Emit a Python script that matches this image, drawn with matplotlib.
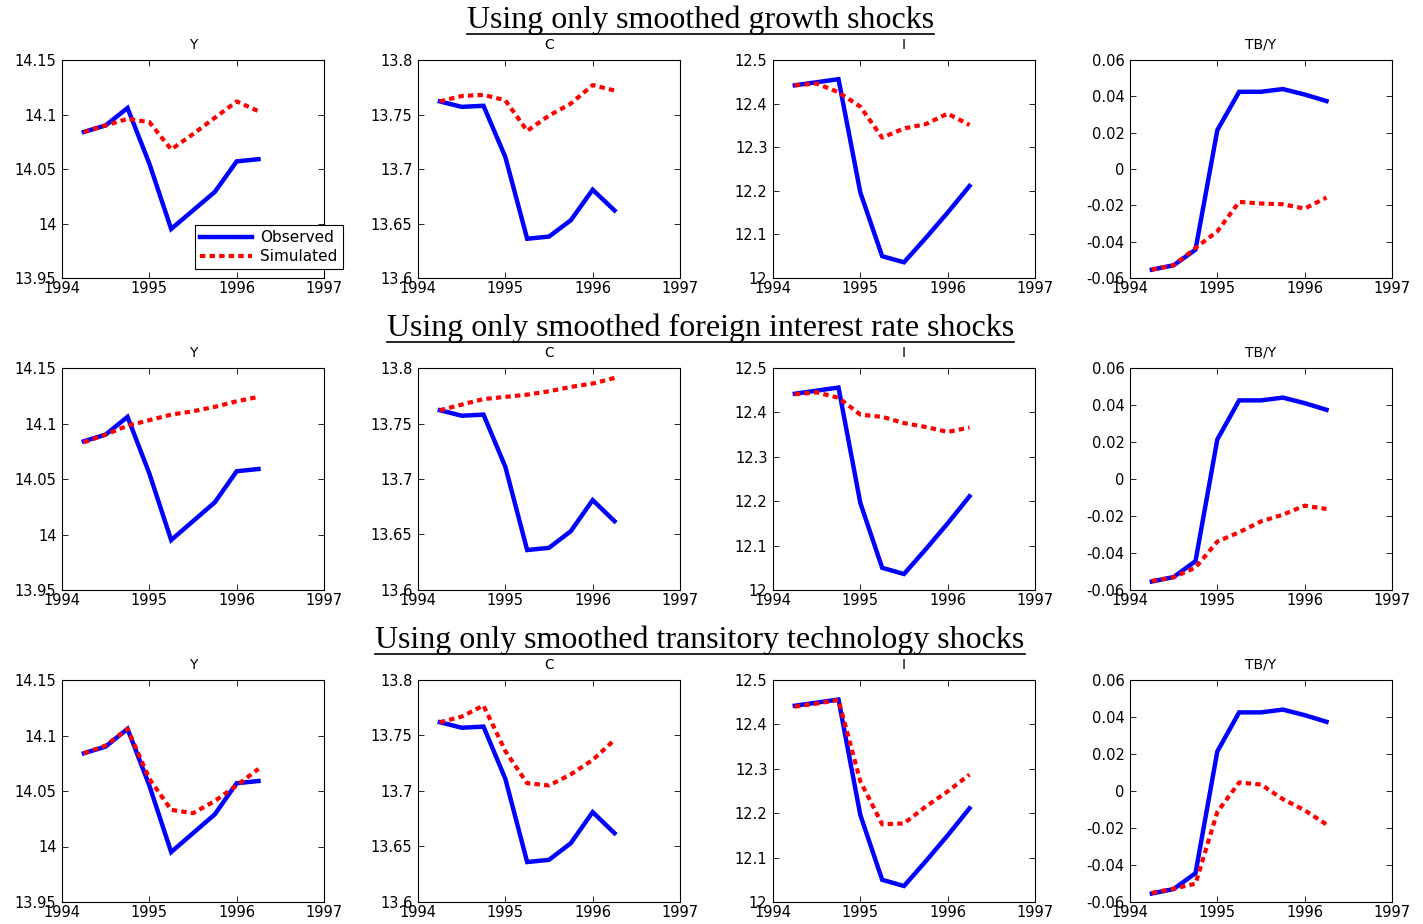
import matplotlib
matplotlib.use("Agg")
import matplotlib.pyplot as plt
from matplotlib.lines import Line2D
from matplotlib.ticker import FuncFormatter

# quarterly dates
quarters = [1994.25, 1994.5, 1994.75, 1995.0, 1995.25, 1995.5, 1995.75, 1996.0, 1996.25]

# observed series (same in every row)
obs_Y = [14.084, 14.090, 14.106, 14.055, 13.995, 14.012, 14.029, 14.057, 14.059]
obs_C = [13.762, 13.757, 13.758, 13.711, 13.636, 13.638, 13.653, 13.681, 13.662]
obs_I = [12.442, 12.449, 12.456, 12.196, 12.050, 12.036, 12.092, 12.150, 12.211]
obs_TBY = [-0.0554, -0.0530, -0.0444, 0.0214, 0.0425, 0.0425, 0.0440, 0.0410, 0.0374]

# simulated: growth shocks only
growth_Y = [14.084, 14.090, 14.096, 14.093, 14.068, 14.082, 14.097, 14.112, 14.103]
growth_C = [13.762, 13.767, 13.768, 13.763, 13.735, 13.749, 13.760, 13.777, 13.772]
growth_I = [12.442, 12.446, 12.426, 12.393, 12.322, 12.343, 12.353, 12.377, 12.351]
growth_TBY = [-0.0554, -0.0530, -0.0435, -0.0343, -0.0181, -0.0190, -0.0194, -0.0218, -0.0157]

# simulated: foreign interest rate shocks only
rate_Y = [14.083, 14.090, 14.098, 14.103, 14.108, 14.111, 14.115, 14.120, 14.124]
rate_C = [13.762, 13.767, 13.772, 13.774, 13.776, 13.779, 13.783, 13.786, 13.791]
rate_I = [12.441, 12.445, 12.433, 12.395, 12.390, 12.376, 12.367, 12.356, 12.366]
rate_TBY = [-0.0551, -0.0531, -0.0479, -0.0338, -0.0288, -0.0229, -0.0193, -0.0144, -0.0162]

# simulated: transitory technology shocks only
tech_Y = [14.084, 14.091, 14.106, 14.061, 14.033, 14.030, 14.041, 14.055, 14.070]
tech_C = [13.762, 13.767, 13.777, 13.736, 13.707, 13.705, 13.715, 13.728, 13.746]
tech_I = [12.440, 12.447, 12.455, 12.272, 12.175, 12.177, 12.215, 12.249, 12.287]
tech_TBY = [-0.0551, -0.0528, -0.0501, -0.0113, 0.0046, 0.0035, -0.0044, -0.0104, -0.0181]

row_titles = ["Using only smoothed growth shocks",
              "Using only smoothed foreign interest rate shocks",
              "Using only smoothed transitory technology shocks"]
panel_titles = ["Y", "C", "I", "TB/Y"]
observed = [obs_Y, obs_C, obs_I, obs_TBY]
simulated = [[growth_Y, growth_C, growth_I, growth_TBY],
             [rate_Y, rate_C, rate_I, rate_TBY],
             [tech_Y, tech_C, tech_I, tech_TBY]]
ylims = [(13.95, 14.15), (13.6, 13.8), (12.0, 12.5), (-0.06, 0.06)]
ysteps = [0.05, 0.05, 0.1, 0.02]
xticks = [1994, 1995, 1996, 1997]

W, H = 1423, 924
col_left = [62, 418, 773, 1130]
col_width = 262
row_top = [60, 368, 680]
row_bottom = [278, 590, 902]
title_y = [20, 328, 640]


def matlab_fmt(v, pos):
    v = round(v, 6)
    if abs(v) < 1e-12:
        v = 0.0
    return "%g" % v


fig = plt.figure(figsize=(W / 100, H / 100), dpi=100)

for r in range(3):
    for c in range(4):
        ax = fig.add_axes([col_left[c] / W, 1 - row_bottom[r] / H,
                           col_width / W, (row_bottom[r] - row_top[r]) / H])
        ax.plot(quarters, observed[c], color=(0, 0, 1), lw=3.2,
                solid_joinstyle="miter", label="Observed")
        ax.plot(quarters, simulated[r][c], color=(1, 0, 0), lw=3.0,
                linestyle=(0, (1.3, 1.0)), dash_capstyle="butt", label="Simulated")
        lo, hi = ylims[c]
        n = int(round((hi - lo) / ysteps[c]))
        ax.set_xlim(1994, 1997)
        ax.set_ylim(lo, hi)
        ax.set_xticks(xticks)
        ax.set_yticks([lo + i * ysteps[c] for i in range(n + 1)])
        ax.yaxis.set_major_formatter(FuncFormatter(matlab_fmt))
        ax.tick_params(direction="in", length=4, width=0.6, top=True, right=True,
                       labelsize=10.5, colors="black")
        ax.tick_params(axis="x", pad=2)
        ax.tick_params(axis="y", pad=4)
        for s in ax.spines.values():
            s.set_linewidth(0.8)
        ax.set_title(panel_titles[c], fontsize=10, pad=8)
        if r == 0 and c == 0:
            leg = ax.legend(loc="lower left", bbox_to_anchor=(0.508, 0.04),
                            fontsize=11, frameon=True, fancybox=False,
                            edgecolor="black", framealpha=1, handlelength=3.4,
                            borderpad=0.35, labelspacing=0.25, handletextpad=0.5,
                            borderaxespad=0)
            leg.get_frame().set_linewidth(0.8)

# row titles, underlined
fig.canvas.draw()
renderer = fig.canvas.get_renderer()
for r in range(3):
    t = fig.text(0.492, 1 - title_y[r] / H, row_titles[r], ha="center", va="center",
                 fontsize=23, family="Liberation Serif")
    bb = t.get_window_extent(renderer=renderer)
    yline = bb.y0 + 1
    fig.add_artist(Line2D([bb.x0 / W, bb.x1 / W], [yline / H, yline / H],
                          transform=fig.transFigure, color="black", lw=1.2))

fig.savefig("out.png", dpi=100)
